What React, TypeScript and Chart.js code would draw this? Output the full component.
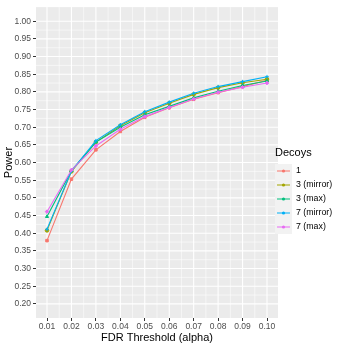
import React, { useEffect, useRef } from "react";
import { Chart, registerables } from "chart.js";
Chart.register(...registerables);

const alphas = [0.01, 0.02, 0.03, 0.04, 0.05, 0.06, 0.07, 0.08, 0.09, 0.1];
const xTicks = [0.01, 0.02, 0.03, 0.04, 0.05, 0.06, 0.07, 0.08, 0.09, 0.1];
const yTicks = [0.2, 0.25, 0.3, 0.35, 0.4, 0.45, 0.5, 0.55, 0.6, 0.65, 0.7, 0.75, 0.8, 0.85, 0.9, 0.95, 1.0];

const seriesNames = ["1", "3 (mirror)", "3 (max)", "7 (mirror)", "7 (max)"];
const seriesColors = ["#F8766D", "#A3A500", "#00BF7D", "#00B0F6", "#E76BF3"];
const seriesShapes = ["rect", "circle", "triangle", "cross", "rectRot"];

const decoys1 = [0.379, 0.553, 0.636, 0.688, 0.728, 0.755, 0.779, 0.798, 0.815, 0.833];
const decoys3Mirror = [0.408, 0.575, 0.658, 0.704, 0.741, 0.768, 0.793, 0.812, 0.826, 0.836];
const decoys3Max = [0.447, 0.577, 0.658, 0.700, 0.735, 0.759, 0.783, 0.802, 0.818, 0.831];
const decoys7Mirror = [0.411, 0.576, 0.662, 0.707, 0.744, 0.771, 0.796, 0.815, 0.829, 0.843];
const decoys7Max = [0.461, 0.579, 0.647, 0.694, 0.730, 0.756, 0.780, 0.799, 0.813, 0.825];

const seriesValues = [decoys1, decoys3Mirror, decoys3Max, decoys7Mirror, decoys7Max];

const FONT = "'Liberation Sans', Arial, sans-serif";

const ggBackground = {
  id: "ggBackground",
  beforeDatasetsDraw(chart: any) {
    const { ctx, chartArea: a, scales } = chart;
    const xs = scales.x;
    const ys = scales.y;
    ctx.save();
    ctx.fillStyle = "#EBEBEB";
    ctx.fillRect(a.left, a.top, a.right - a.left, a.bottom - a.top);
    ctx.strokeStyle = "#FFFFFF";
    ctx.lineWidth = 0.55;
    for (let i = 0; i < xTicks.length - 1; i++) {
      const px = xs.getPixelForValue((xTicks[i] + xTicks[i + 1]) / 2);
      ctx.beginPath(); ctx.moveTo(px, a.top); ctx.lineTo(px, a.bottom); ctx.stroke();
    }
    for (let i = 0; i < yTicks.length - 1; i++) {
      const py = ys.getPixelForValue((yTicks[i] + yTicks[i + 1]) / 2);
      ctx.beginPath(); ctx.moveTo(a.left, py); ctx.lineTo(a.right, py); ctx.stroke();
    }
    ctx.lineWidth = 1.1;
    for (const v of xTicks) {
      const px = xs.getPixelForValue(v);
      ctx.beginPath(); ctx.moveTo(px, a.top); ctx.lineTo(px, a.bottom); ctx.stroke();
    }
    for (const v of yTicks) {
      const py = ys.getPixelForValue(v);
      ctx.beginPath(); ctx.moveTo(a.left, py); ctx.lineTo(a.right, py); ctx.stroke();
    }
    ctx.restore();
  },
};

const ggLegend = {
  id: "ggLegend",
  afterDraw(chart: any) {
    const { ctx } = chart;
    const x0 = 275;
    const titleY = 153;
    const firstY = 171;
    const step = 14;
    ctx.save();
    ctx.fillStyle = "#000000";
    ctx.font = `11px ${FONT}`;
    ctx.textBaseline = "middle";
    ctx.textAlign = "left";
    ctx.fillText("Decoys", x0, titleY);
    seriesNames.forEach((name, i) => {
      const cy = firstY + i * step;
      ctx.fillStyle = "#F2F2F2";
      ctx.fillRect(x0, cy - step / 2, 17, step);
      ctx.strokeStyle = seriesColors[i];
      ctx.lineWidth = 1;
      ctx.beginPath(); ctx.moveTo(x0 + 2, cy); ctx.lineTo(x0 + 15, cy); ctx.stroke();
      ctx.fillStyle = seriesColors[i];
      ctx.beginPath(); ctx.arc(x0 + 8.5, cy, 1.6, 0, Math.PI * 2); ctx.fill();
      ctx.fillStyle = "#000000";
      ctx.font = `8.8px ${FONT}`;
      ctx.fillText(name, x0 + 21, cy);
    });
    ctx.restore();
  },
};

export default function App() {
  const ref = useRef<HTMLCanvasElement | null>(null);
  useEffect(() => {
    if (!ref.current) return;
    const datasets = seriesNames.map((name, i) => ({
      label: name,
      data: alphas.map((a, j) => ({ x: a, y: seriesValues[i][j] })),
      borderColor: seriesColors[i],
      backgroundColor: seriesColors[i],
      borderWidth: 1.1,
      pointStyle: seriesShapes[i],
      pointRadius: 1.8,
      pointBorderWidth: 1,
      pointHoverRadius: 1.8,
      tension: 0,
      fill: false,
      order: seriesNames.length - i,
    }));
    const chart = new Chart(ref.current, {
      type: "line",
      data: { datasets },
      options: {
        responsive: false,
        animation: false,
        devicePixelRatio: 1,
        layout: { padding: { left: 0, right: 68, top: 4, bottom: 0 } },
        plugins: { legend: { display: false }, tooltip: { enabled: false } },
        scales: {
          x: {
            type: "linear",
            min: 0.0055,
            max: 0.1045,
            afterBuildTicks: (s: any) => { s.ticks = xTicks.map((v) => ({ value: v })); },
            afterFit: (s: any) => { s.height = 28; },
            ticks: {
              autoSkip: false,
              maxRotation: 0,
              padding: 1,
              color: "#4D4D4D",
              font: { family: FONT, size: 8.5 },
              callback: (v: any) => Number(v).toFixed(2),
            },
            grid: { display: true, drawOnChartArea: false, color: "#333333", tickLength: 3, lineWidth: 1 },
            border: { display: false },
            title: { display: true, text: "FDR Threshold (alpha)", color: "#000000", font: { family: FONT, size: 11 }, padding: { top: 0, bottom: 1 } },
          },
          y: {
            type: "linear",
            min: 0.16,
            max: 1.04,
            afterBuildTicks: (s: any) => { s.ticks = yTicks.map((v) => ({ value: v })); },
            afterFit: (s: any) => { s.width = 36; },
            ticks: {
              autoSkip: false,
              padding: 2,
              color: "#4D4D4D",
              font: { family: FONT, size: 8.5 },
              callback: (v: any) => Number(v).toFixed(2),
            },
            grid: { display: true, drawOnChartArea: false, color: "#333333", tickLength: 3, lineWidth: 1 },
            border: { display: false },
            title: { display: true, text: "Power", color: "#000000", font: { family: FONT, size: 11 }, padding: { top: 2, bottom: 0 } },
          },
        },
      },
      plugins: [ggBackground, ggLegend],
    } as any);
    return () => chart.destroy();
  }, []);
  return (
    <div style={{ position: "absolute", left: 0, top: 0, width: 346, height: 346, background: "#FFFFFF" }}>
      <canvas ref={ref} width={346} height={346} style={{ width: 346, height: 346 }} />
    </div>
  );
}
